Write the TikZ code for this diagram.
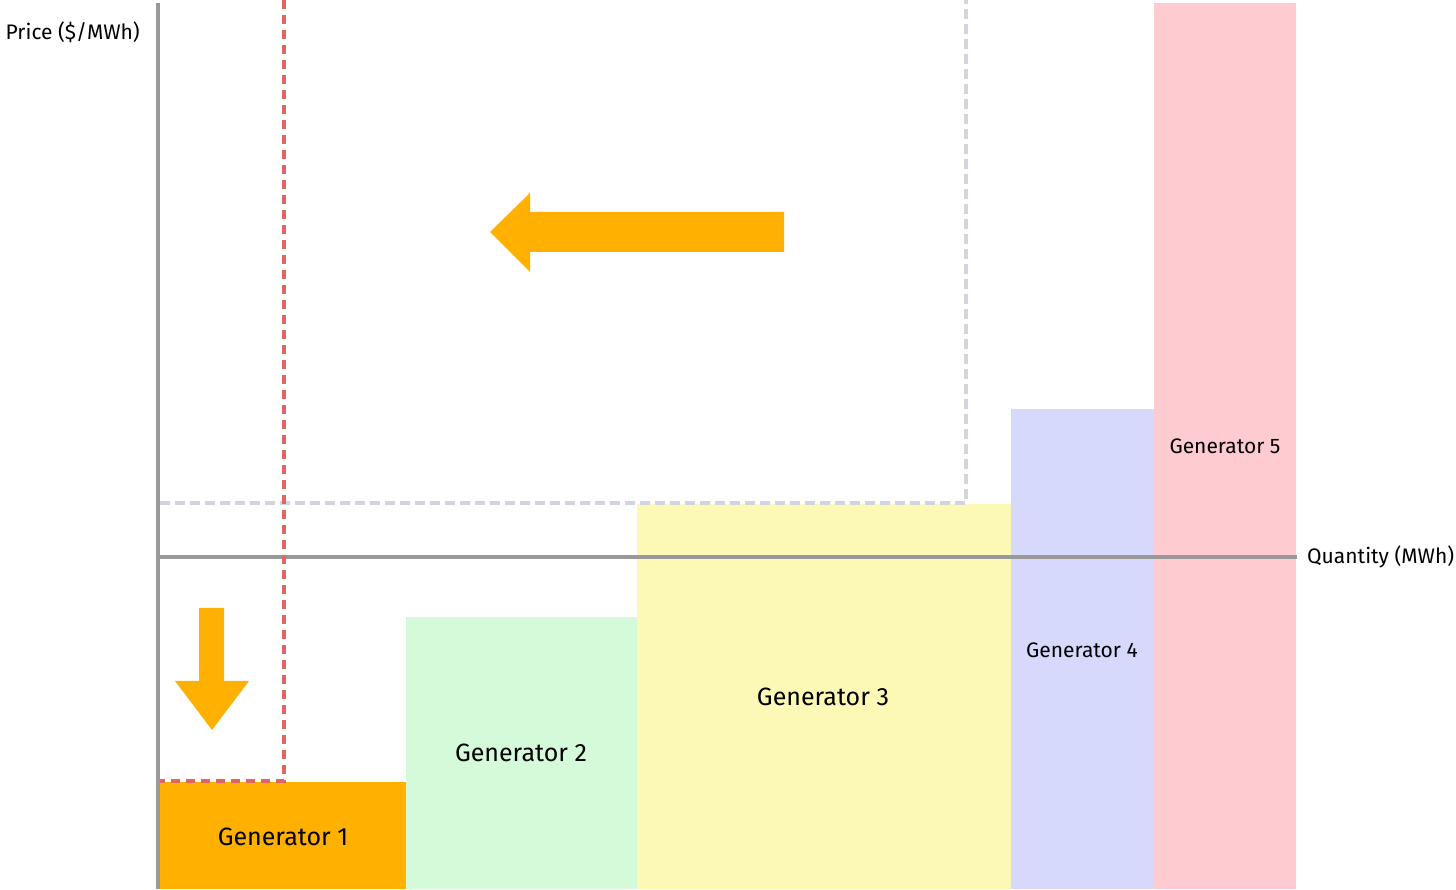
\documentclass[tikz,border=0pt]{standalone}
\usepackage{fontspec}
\setmainfont{Fira Sans}
\usepackage{tikz}
\usetikzlibrary{arrows.meta}
\usetikzlibrary{positioning}
\definecolor{axisgray}{HTML}{999999}
\definecolor{genorange}{HTML}{FFB000}
\definecolor{gengreen}{HTML}{D5FAD9}
\definecolor{genyellow}{HTML}{FCF8B5}
\definecolor{genblue}{HTML}{D7D9FC}
\definecolor{genpink}{HTML}{FECBD1}
\definecolor{dashred}{HTML}{E06666}
\definecolor{dashgray}{HTML}{D2D5DE}
\tikzset{
  genlabel/.style={font=\fontsize{25}{28}\selectfont, text=black},
  smalllabel/.style={font=\fontsize{21}{25}\selectfont, text=black},
  axislabel/.style={font=\fontsize{21}{25}\selectfont, text=black, inner sep=0pt},
}

\begin{document}
\begin{tikzpicture}[line cap=butt,line join=miter, x=1pt,y=1pt]
\useasboundingbox (0,0) rectangle (1456,889);
% generators
\fill [genorange] (160,0) rectangle (406,107);
\fill [gengreen] (406,0) rectangle (637,272);
\fill [genyellow] (637,0) rectangle (1011,385);
\fill [genblue] (1011,0) rectangle (1154,480);
\fill [genpink] (1154,0) rectangle (1296,886);
\node [genlabel] (gen1) at (283,52) {Generator 1};
\node [genlabel] (gen2) at (521,136) {Generator 2};
\node [genlabel] (gen3) at (823,192) {Generator 3};
\node [smalllabel] (gen4) at (1082,239) {Generator 4};
\node [smalllabel] (gen5) at (1225,443) {Generator 5};
% axes
\draw [color=axisgray, line width=4pt] (158,0) -- (158,886);
\draw [color=axisgray, line width=4pt] (158,332) -- (1297,332);
\node [axislabel, anchor=east] (price) at (140,857) {Price (\$/MWh)};
\node [axislabel, anchor=west] (quantity) at (1307,332) {Quantity (MWh)};
% dashed lines
\draw [color=dashgray, line width=3.5pt, dash pattern=on 10pt off 5pt] (160,386) -- (966,386) -- (966,889);
\draw [color=dashred, line width=3.5pt, dash pattern=on 9pt off 6pt] (284,889) -- (284,108) -- (160,108);
% arrows
\fill [genorange] (490,657) -- (530,696) -- (530,677) -- (784,677) -- (784,637) -- (530,637) -- (530,617) -- cycle;
\fill [genorange] (199,281) -- (224,281) -- (224,208) -- (249,208) -- (212,159) -- (175,208) -- (199,208) -- cycle;
\end{tikzpicture}
\end{document}
